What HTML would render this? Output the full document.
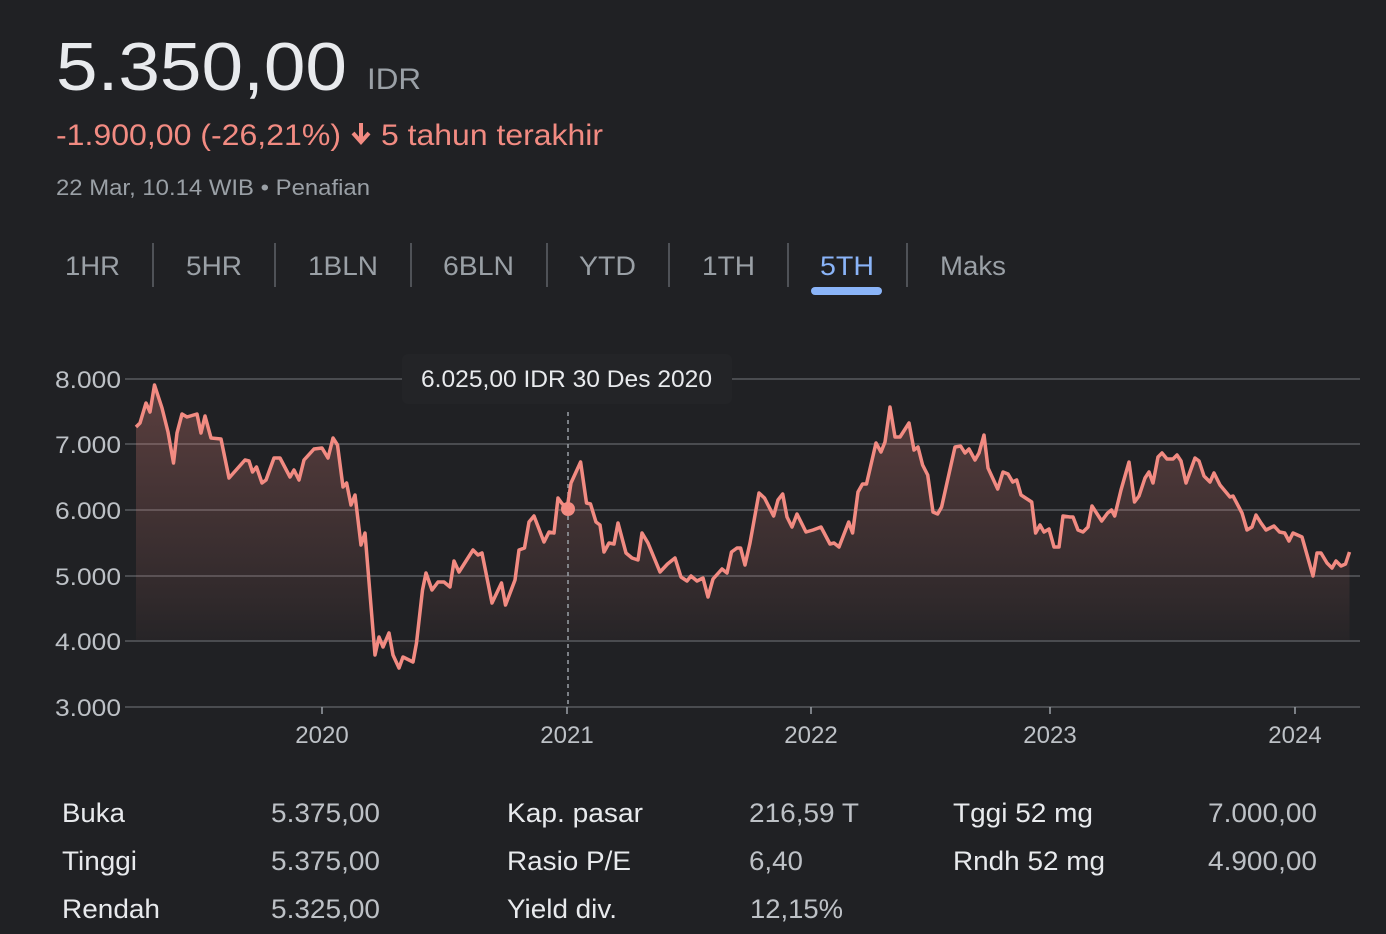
<!DOCTYPE html>
<html><head><meta charset="utf-8"><style>
html,body{margin:0;padding:0;background:#202124;}
svg{display:block;font-family:"Liberation Sans",Arial,sans-serif;}
</style></head><body>
<svg width="1386" height="934" viewBox="0 0 1386 934" xmlns="http://www.w3.org/2000/svg">
<defs>
<linearGradient id="g" x1="0" y1="0" x2="0" y2="1">
<stop offset="0" stop-color="#f28b82" stop-opacity="0.28"/>
<stop offset="0.75" stop-color="#f28b82" stop-opacity="0.08"/>
<stop offset="1" stop-color="#f28b82" stop-opacity="0"/>
</linearGradient>
</defs>
<rect width="1386" height="934" fill="#202124"/>
<text x="56" y="90" font-size="68" fill="#e8eaed" textLength="291" lengthAdjust="spacingAndGlyphs">5.350,00</text>
<text x="367" y="89" font-size="30" fill="#9aa0a6" textLength="54" lengthAdjust="spacingAndGlyphs">IDR</text>
<text x="56" y="145" font-size="30" fill="#f28b82" textLength="285" lengthAdjust="spacingAndGlyphs">-1.900,00 (-26,21%)</text>
<path d="M361 123 v17 M353 133 l8 9 l8 -9" stroke="#f28b82" stroke-width="4" fill="none"/>
<text x="381" y="145" font-size="30" fill="#f28b82" textLength="222" lengthAdjust="spacingAndGlyphs">5 tahun terakhir</text>
<text x="56" y="195" font-size="22" fill="#9aa0a6" textLength="314" lengthAdjust="spacingAndGlyphs">22 Mar, 10.14 WIB • Penafian</text>
<g font-size="27" fill="#9aa0a6">
<text x="65" y="275" textLength="55" lengthAdjust="spacingAndGlyphs">1HR</text>
<text x="186" y="275" textLength="56" lengthAdjust="spacingAndGlyphs">5HR</text>
<text x="308" y="275" textLength="70" lengthAdjust="spacingAndGlyphs">1BLN</text>
<text x="443" y="275" textLength="71" lengthAdjust="spacingAndGlyphs">6BLN</text>
<text x="579" y="275" textLength="57" lengthAdjust="spacingAndGlyphs">YTD</text>
<text x="702" y="275" textLength="53" lengthAdjust="spacingAndGlyphs">1TH</text>
<text x="820" y="275" fill="#8ab4f8" textLength="54" lengthAdjust="spacingAndGlyphs">5TH</text>
<text x="940" y="275" textLength="66" lengthAdjust="spacingAndGlyphs">Maks</text>
</g>
<g stroke="#5f6368" stroke-width="1.5">
<line x1="153" y1="243" x2="153" y2="287"/><line x1="275" y1="243" x2="275" y2="287"/>
<line x1="411" y1="243" x2="411" y2="287"/><line x1="547" y1="243" x2="547" y2="287"/>
<line x1="669" y1="243" x2="669" y2="287"/><line x1="788" y1="243" x2="788" y2="287"/>
<line x1="907" y1="243" x2="907" y2="287"/>
</g>
<rect x="811" y="287" width="71" height="8" rx="4" fill="#8ab4f8"/>
<g stroke="#4a4c50" stroke-width="2">
<line x1="125" y1="379" x2="1360" y2="379"/><line x1="125" y1="444" x2="1360" y2="444"/>
<line x1="125" y1="510" x2="1360" y2="510"/><line x1="125" y1="576" x2="1360" y2="576"/>
<line x1="125" y1="641" x2="1360" y2="641"/><line x1="125" y1="707" x2="1360" y2="707"/>
</g>
<g font-size="24" fill="#bdc1c6">
<text x="55" y="388" textLength="66" lengthAdjust="spacingAndGlyphs">8.000</text><text x="55" y="453" textLength="66" lengthAdjust="spacingAndGlyphs">7.000</text><text x="55" y="519" textLength="66" lengthAdjust="spacingAndGlyphs">6.000</text>
<text x="55" y="585" textLength="66" lengthAdjust="spacingAndGlyphs">5.000</text><text x="55" y="650" textLength="66" lengthAdjust="spacingAndGlyphs">4.000</text><text x="55" y="716" textLength="66" lengthAdjust="spacingAndGlyphs">3.000</text>
</g>
<g font-size="24" fill="#bdc1c6" text-anchor="middle">
<text x="322" y="743">2020</text><text x="567" y="743">2021</text><text x="811" y="743">2022</text>
<text x="1050" y="743">2023</text><text x="1295" y="743">2024</text>
</g>
<g stroke="#9aa0a6" stroke-width="1.5"><line x1="322" y1="707" x2="322" y2="714"/><line x1="567" y1="707" x2="567" y2="714"/><line x1="811" y1="707" x2="811" y2="714"/><line x1="1050" y1="707" x2="1050" y2="714"/><line x1="1295" y1="707" x2="1295" y2="714"/></g>
<polygon fill="url(#g)" points="136,640 136,427 140,423 146,403 150,412 154.5,385 162,408 168,432 173.5,463 177,433 182,414 187,417 197,414 201,433 205,416 211,438 221,439 229,478 245,460 249,461 252.5,472 256.5,467 262,483 266,480 274,458 280,458 290,477 294,470 299,480 304,460 314,449 322,448 328,458 333,438 337.5,445 343,487 346.6,483 351,505 355,495 361,545 365,533 375,655 379,637 383,647 389,633 393,655 399,668 403,657 413,662 416.5,643 422.5,590 426,573 432,590 438,582 444,582 450,587 454,561 459,572 473,550 478,555 482,553 492,603 501.5,583 505.5,605 515,580 519,550 524.5,548 529,522 534,516 544,542 549,532 554,533 558,498 561.6,503 567,509 571,483 580.6,462 586.5,503 590.5,504 596,522 600,525 604,552 609,543 614,544 618,523 626,553 632,558 638,560 642,533 648,543 660,572 667.5,564 675,558 681,577 687,581 691,576 697,581 703,578 708,597 713,579 722,569 727,573 731.5,552 737,548 740.6,548 745,565 750,543 759,493 764.5,498 773.6,516 778,500 782.7,494 787,517 792,527 797,514 806,532 813,530 821,527 830,544 834,543 839,547 848.7,522 852.6,533 858,492 862.5,484 866.5,484 876,443 881,452 885,442 890,407 895,437 900,437 909,423 914,450 918,447 922.6,465 927.7,475 933,512 937.6,514 941.6,507 955,447 960.6,446 965,453 969,449 975,460 979,453 984,435 988,468 997.7,489 1003,472 1008,474 1012.7,482 1016.7,480 1021,495 1031.7,502 1035.6,533 1040,525 1044,532 1049,529 1054,547 1059,547 1063,516 1070,517 1073,517 1078,530 1083,532 1088,527 1092,506 1101.7,521 1107.6,513 1111.5,510 1114.7,516 1121,490 1129,462 1134.5,502 1139,496 1145,478 1149,472 1153,483 1158,457 1162,453 1167,459 1173,459 1177,455 1181,461 1186,483 1195,458 1199,461 1204,476 1210,482 1214,473 1220,485 1230,497 1233,496 1242,513 1247,530 1252,527 1256,515 1261,523 1266,530 1274,526 1279.5,532 1284.7,533 1289,541 1293,533 1302,537 1313,576 1317,553 1321,553 1327,563 1332,568 1336,561 1341,566 1345.5,564 1349.5,552 1349.5,640"/>
<line x1="568" y1="412" x2="568" y2="707" stroke="#9aa0a6" stroke-width="1.5" stroke-dasharray="4,4"/>
<polyline fill="none" stroke="#f28b82" stroke-width="3.5" stroke-linejoin="round" points="136,427 140,423 146,403 150,412 154.5,385 162,408 168,432 173.5,463 177,433 182,414 187,417 197,414 201,433 205,416 211,438 221,439 229,478 245,460 249,461 252.5,472 256.5,467 262,483 266,480 274,458 280,458 290,477 294,470 299,480 304,460 314,449 322,448 328,458 333,438 337.5,445 343,487 346.6,483 351,505 355,495 361,545 365,533 375,655 379,637 383,647 389,633 393,655 399,668 403,657 413,662 416.5,643 422.5,590 426,573 432,590 438,582 444,582 450,587 454,561 459,572 473,550 478,555 482,553 492,603 501.5,583 505.5,605 515,580 519,550 524.5,548 529,522 534,516 544,542 549,532 554,533 558,498 561.6,503 567,509 571,483 580.6,462 586.5,503 590.5,504 596,522 600,525 604,552 609,543 614,544 618,523 626,553 632,558 638,560 642,533 648,543 660,572 667.5,564 675,558 681,577 687,581 691,576 697,581 703,578 708,597 713,579 722,569 727,573 731.5,552 737,548 740.6,548 745,565 750,543 759,493 764.5,498 773.6,516 778,500 782.7,494 787,517 792,527 797,514 806,532 813,530 821,527 830,544 834,543 839,547 848.7,522 852.6,533 858,492 862.5,484 866.5,484 876,443 881,452 885,442 890,407 895,437 900,437 909,423 914,450 918,447 922.6,465 927.7,475 933,512 937.6,514 941.6,507 955,447 960.6,446 965,453 969,449 975,460 979,453 984,435 988,468 997.7,489 1003,472 1008,474 1012.7,482 1016.7,480 1021,495 1031.7,502 1035.6,533 1040,525 1044,532 1049,529 1054,547 1059,547 1063,516 1070,517 1073,517 1078,530 1083,532 1088,527 1092,506 1101.7,521 1107.6,513 1111.5,510 1114.7,516 1121,490 1129,462 1134.5,502 1139,496 1145,478 1149,472 1153,483 1158,457 1162,453 1167,459 1173,459 1177,455 1181,461 1186,483 1195,458 1199,461 1204,476 1210,482 1214,473 1220,485 1230,497 1233,496 1242,513 1247,530 1252,527 1256,515 1261,523 1266,530 1274,526 1279.5,532 1284.7,533 1289,541 1293,533 1302,537 1313,576 1317,553 1321,553 1327,563 1332,568 1336,561 1341,566 1345.5,564 1349.5,552"/>
<rect x="402" y="354" width="330" height="50" rx="6" fill="#232427"/>
<text x="421" y="387" font-size="24" fill="#e8eaed" textLength="291" lengthAdjust="spacingAndGlyphs">6.025,00 IDR  30 Des 2020</text>
<circle cx="568" cy="509" r="7" fill="#f28b82"/>
<g font-size="27" fill="#e8eaed">
<text x="62" y="822" textLength="63" lengthAdjust="spacingAndGlyphs">Buka</text><text x="62" y="870" textLength="75" lengthAdjust="spacingAndGlyphs">Tinggi</text><text x="62" y="918" textLength="98" lengthAdjust="spacingAndGlyphs">Rendah</text>
<text x="507" y="822" textLength="136" lengthAdjust="spacingAndGlyphs">Kap. pasar</text><text x="507" y="870" textLength="124" lengthAdjust="spacingAndGlyphs">Rasio P/E</text><text x="507" y="918" textLength="110" lengthAdjust="spacingAndGlyphs">Yield div.</text>
<text x="953" y="822" textLength="140" lengthAdjust="spacingAndGlyphs">Tggi 52 mg</text><text x="953" y="870" textLength="152" lengthAdjust="spacingAndGlyphs">Rndh 52 mg</text>
</g>
<g font-size="27" fill="#bdc1c6">
<text x="271" y="822" textLength="109" lengthAdjust="spacingAndGlyphs">5.375,00</text><text x="271" y="870" textLength="109" lengthAdjust="spacingAndGlyphs">5.375,00</text><text x="271" y="918" textLength="109" lengthAdjust="spacingAndGlyphs">5.325,00</text>
<text x="749" y="822" textLength="110" lengthAdjust="spacingAndGlyphs">216,59 T</text><text x="749" y="870" textLength="54" lengthAdjust="spacingAndGlyphs">6,40</text><text x="750" y="918" textLength="93" lengthAdjust="spacingAndGlyphs">12,15%</text>
<text x="1208" y="822" textLength="109" lengthAdjust="spacingAndGlyphs">7.000,00</text><text x="1208" y="870" textLength="109" lengthAdjust="spacingAndGlyphs">4.900,00</text>
</g>
</svg>
</body></html>
